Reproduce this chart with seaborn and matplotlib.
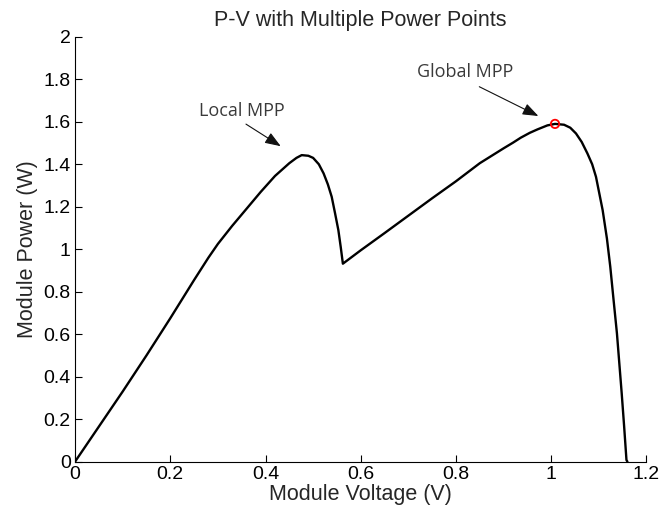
import matplotlib
matplotlib.use("Agg")
import matplotlib.pyplot as plt
import seaborn as sns
import pandas as pd

voltage = [0, 0.05, 0.10, 0.15, 0.20, 0.25, 0.28, 0.30, 0.33, 0.36, 0.39, 0.42,
           0.45, 0.465, 0.476, 0.49, 0.50, 0.512, 0.522, 0.531, 0.539, 0.546,
           0.553, 0.558, 0.5625, 0.60, 0.65, 0.70, 0.75, 0.80, 0.85, 0.90, 0.92,
           0.936, 0.955, 0.971, 0.992, 1.008, 1.027, 1.04, 1.052, 1.064, 1.076,
           1.086, 1.094, 1.108, 1.117, 1.124, 1.131, 1.138, 1.148, 1.153, 1.158,
           1.160]
power = [0, 0.165, 0.33, 0.50, 0.675, 0.855, 0.96, 1.025, 1.11, 1.19, 1.27, 1.345,
         1.405, 1.43, 1.443, 1.44, 1.43, 1.40, 1.357, 1.305, 1.247, 1.17,
         1.09, 1.01, 0.932, 0.995, 1.076, 1.158, 1.24, 1.32, 1.405, 1.475, 1.502,
         1.525, 1.548, 1.564, 1.583, 1.59, 1.586, 1.572, 1.545, 1.505, 1.451,
         1.40, 1.341, 1.184, 1.05, 0.918, 0.76, 0.604, 0.322, 0.17, 0.008,
         0]
gmpp_v = [1.008]
gmpp_p = [1.59]
x_ticks = [0, 0.2, 0.4, 0.6, 0.8, 1, 1.2]
x_tick_labels = ["0", "0.2", "0.4", "0.6", "0.8", "1", "1.2"]
y_ticks = [0, 0.2, 0.4, 0.6, 0.8, 1, 1.2, 1.4, 1.6, 1.8, 2]
y_tick_labels = ["0", "0.2", "0.4", "0.6", "0.8", "1", "1.2", "1.4", "1.6", "1.8", "2"]

df = pd.DataFrame({"V": voltage, "P": power})
dm = pd.DataFrame({"V": gmpp_v, "P": gmpp_p})

sns.set_style("ticks")
plt.rcParams["font.family"] = ["Liberation Sans", "DejaVu Sans"]

fig = plt.figure(figsize=(6.61, 5.11), dpi=100)
ax = fig.add_axes([0.1135, 0.0965, 0.8645, 0.8315])

sns.lineplot(data=df, x="V", y="P", sort=False, estimator=None, color="black",
             linewidth=1.7, ax=ax)
sns.scatterplot(data=dm, x="V", y="P", marker="o", s=36, facecolor="none",
                edgecolor="red", linewidth=1.3, ax=ax, zorder=5)

ax.set_xlim(0, 1.2)
ax.set_ylim(0, 2)
ax.set_xticks(x_ticks)
ax.set_xticklabels(x_tick_labels)
ax.set_yticks(y_ticks)
ax.set_yticklabels(y_tick_labels)
ax.tick_params(direction="in", length=5, width=0.8, labelsize=14, pad=3,
               colors="black")
for s in ["top", "right"]:
    ax.spines[s].set_visible(False)
for s in ["left", "bottom"]:
    ax.spines[s].set_linewidth(0.8)
    ax.spines[s].set_color("black")

ax.set_xlabel("Module Voltage (V)", fontsize=15.5, labelpad=1)
ax.set_ylabel("Module Power (W)", fontsize=15.5, labelpad=4)
ax.set_title("P-V with Multiple Power Points", fontsize=15.5, pad=8)

ann_font = dict(family=["Open Sans", "DejaVu Sans"], fontsize=13, color="#3a3a3a")
arrow = dict(arrowstyle="-|>,head_length=0.8,head_width=0.3", color="#111111",
             lw=0.8, mutation_scale=12, shrinkA=0, shrinkB=0)

ax.text(0.350, 1.650, "Local MPP", ha="center", va="center", **ann_font)
ax.annotate("", xy=(0.432, 1.485), xytext=(0.359, 1.589), arrowprops=arrow)
ax.text(0.819, 1.832, "Global MPP", ha="center", va="center", **ann_font)
ax.annotate("", xy=(0.973, 1.627), xytext=(0.849, 1.765), arrowprops=arrow)

fig.savefig("out.png", dpi=100)
